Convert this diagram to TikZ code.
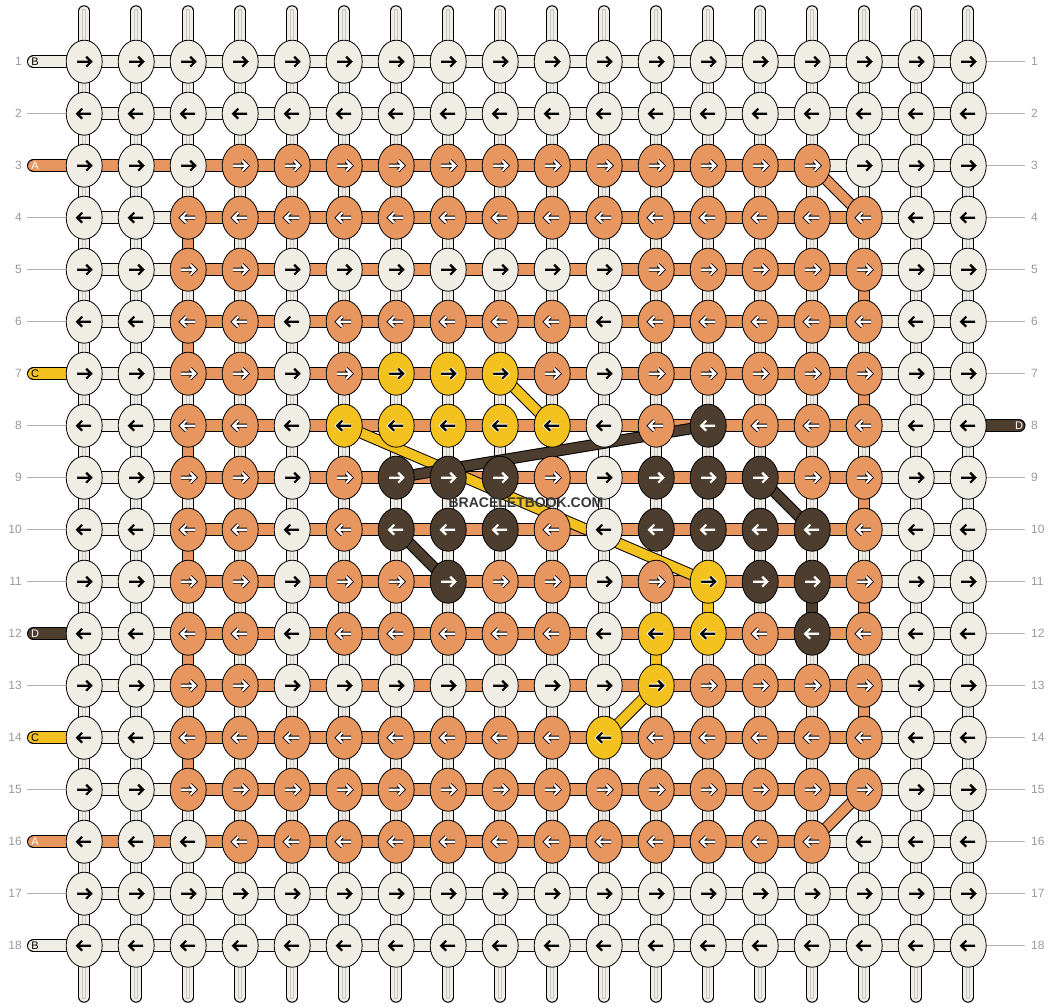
\documentclass[tikz,border=0pt]{standalone}
\usepackage{fontspec}
\setmainfont{Liberation Sans}
\usepackage{tikz}
\usetikzlibrary{shapes.geometric}

\definecolor{colW}{HTML}{F0EEE4}
\definecolor{colO}{HTML}{E8965F}
\definecolor{colY}{HTML}{F4C21F}
\definecolor{colD}{HTML}{4D3D2F}
\colorlet{outW}{colW}  \colorlet{inW}{black}
\colorlet{outO}{black} \colorlet{inO}{white}
\colorlet{outY}{white} \colorlet{inY}{black}
\colorlet{outD}{colD}  \colorlet{inD}{white}
\newcommand\unbrace[1]{#1}

\begin{document}
\begin{tikzpicture}
[
	              x = 1pt,
	              y = -1pt,
	  thread/.style = { draw=black, line width=1pt, double distance=9.5pt, double=#1 },
	    weft/.style = { draw=black, line width=1pt, double distance=11pt, double=#1 },
	    warp/.style = { draw=black, line width=11.5pt, line cap=round,
	                    postaction={draw=colW, line width=9.5pt},
	                    postaction={draw=black!22, line width=4.5pt},
	                    postaction={draw=colW, line width=2.5pt} },
	    knot/.style = { draw=black, ellipse, line width=0.8pt, minimum width=36pt,
	                    minimum height=43pt, inner sep=0pt, fill=col#1 },
	   arrow/.style = { line join=miter, line cap=butt },
	   guide/.style = { draw=black!30, line width=0.8pt },
	     num/.style = { text=black!40, font=\fontsize{12}{12}\selectfont, inner sep=0pt },
	     tag/.style = { font=\fontsize{11}{11}\selectfont, inner sep=0pt }
]
	\useasboundingbox (0,0) rectangle (1052,1008);

	\foreach \c in {1,...,18} {
		\coordinate (t-\c) at ({84.2+52*(\c-1)}, 11);
		\coordinate (b-\c) at ({84.2+52*(\c-1)}, 997);
		\foreach \r in {1,...,18}
			\coordinate (p-\r-\c) at ({84.2+52*(\c-1)}, {61.7+52*(\r-1)});
	}
	\foreach \r in {1,...,18} {
		\coordinate (gl-\r) at (27, {61.7+52*(\r-1)});
		\coordinate (l-\r)  at (33.5, {61.7+52*(\r-1)});
		\coordinate (r-\r)  at (1019, {61.7+52*(\r-1)});
		\coordinate (gr-\r) at (1025, {61.7+52*(\r-1)});
		\node (nl-\r) at (22, {61.7+52*(\r-1)})   [num, anchor=east] {\r};
		\node (nr-\r) at (1031, {61.7+52*(\r-1)}) [num, anchor=west] {\r};
	}

	% warp
	\foreach \c in {1,...,18}
		\draw [warp] (t-\c) -- (b-\c);
	\foreach \a/\b in {4/5, 6/7, 8/9, 10/11, 12/13, 14/15}
		\draw [thread=colO] (p-\a-3) -- (p-\b-3);
	\foreach \a/\b in {5/6, 7/8, 9/10, 11/12, 13/14}
		\draw [thread=colO] (p-\a-16) -- (p-\b-16);

	% weft
	\foreach \r in {2,4,5,6,8,9,10,11,13,15,17}
		\draw [guide] (gl-\r) -- (p-\r-1);
	\foreach \r in {1,...,7,9,10,...,18}
		\draw [guide] (p-\r-18) -- (gr-\r);
	\foreach \r in {1,...,18}
		\draw [weft=colW] (p-\r-1) -- (p-\r-18);
	\foreach \r in {4,...,15}
		\draw [weft=colO] (p-\r-3) -- (p-\r-16);
	\draw [weft=colW, line cap=round] (l-1)  -- (p-1-1);
	\draw [weft=colO, line cap=round] (l-3)  -- (p-3-15);
	\draw [weft=colY, line cap=round] (l-7)  -- (p-7-1);
	\draw [weft=colD, line cap=round] (l-12) -- (p-12-1);
	\draw [weft=colY, line cap=round] (l-14) -- (p-14-1);
	\draw [weft=colO, line cap=round] (l-16) -- (p-16-15);
	\draw [weft=colW, line cap=round] (l-18) -- (p-18-1);
	\draw [weft=colD, line cap=round] (p-8-18) -- (r-8);

	\node (tag-1)  at ([xshift=1.5pt]l-1)  [tag]             {B};
	\node (tag-3)  at ([xshift=1.5pt]l-3)  [tag, text=white] {A};
	\node (tag-7)  at ([xshift=1.5pt]l-7)  [tag]             {C};
	\node (tag-12) at ([xshift=1.5pt]l-12) [tag, text=white] {D};
	\node (tag-14) at ([xshift=1.5pt]l-14) [tag]             {C};
	\node (tag-16) at ([xshift=1.5pt]l-16) [tag, text=white] {A};
	\node (tag-18) at ([xshift=1.5pt]l-18) [tag]             {B};
	\node (tag-8)  at (r-8)                [tag, text=white] {D};

	% carried threads
	\draw [thread=colO] (p-3-15) -- (p-4-16);
	\draw [thread=colO] (p-15-16) -- (p-16-15);
	\draw [thread=colY] (p-7-9) -- (p-8-10);
	\draw [thread=colY] (p-8-6) -- (p-11-13);
	\draw [thread=colY] (p-11-13) -- (p-12-13);
	\draw [thread=colY] (p-12-12) -- (p-13-12);
	\draw [thread=colY] (p-13-12) -- (p-14-11);
	\draw [thread=colD] (p-8-13) -- (p-9-7);
	\draw [thread=colD] (p-10-7) -- (p-11-8);
	\draw [thread=colD] (p-9-14) -- (p-10-15);
	\draw [thread=colD] (p-11-15) -- (p-12-15);

	% knots
	\foreach \r/\pat in {
		 1/{W,W,W,W,W,W,W,W,W,W,W,W,W,W,W,W,W,W},
		 2/{W,W,W,W,W,W,W,W,W,W,W,W,W,W,W,W,W,W},
		 3/{W,W,W,O,O,O,O,O,O,O,O,O,O,O,O,W,W,W},
		 4/{W,W,O,O,O,O,O,O,O,O,O,O,O,O,O,O,W,W},
		 5/{W,W,O,O,W,W,W,W,W,W,W,O,O,O,O,O,W,W},
		 6/{W,W,O,O,W,O,O,O,O,O,W,O,O,O,O,O,W,W},
		 7/{W,W,O,O,W,O,Y,Y,Y,O,W,O,O,O,O,O,W,W},
		 8/{W,W,O,O,W,Y,Y,Y,Y,Y,W,O,D,O,O,O,W,W},
		 9/{W,W,O,O,W,O,D,D,D,O,W,D,D,D,O,O,W,W},
		10/{W,W,O,O,W,O,D,D,D,O,W,D,D,D,D,O,W,W},
		11/{W,W,O,O,W,O,O,D,O,O,W,O,Y,D,D,O,W,W},
		12/{W,W,O,O,W,O,O,O,O,O,W,Y,Y,O,D,O,W,W},
		13/{W,W,O,O,W,W,W,W,W,W,W,Y,O,O,O,O,W,W},
		14/{W,W,O,O,O,O,O,O,O,O,Y,O,O,O,O,O,W,W},
		15/{W,W,O,O,O,O,O,O,O,O,O,O,O,O,O,O,W,W},
		16/{W,W,W,O,O,O,O,O,O,O,O,O,O,O,O,W,W,W},
		17/{W,W,W,W,W,W,W,W,W,W,W,W,W,W,W,W,W,W},
		18/{W,W,W,W,W,W,W,W,W,W,W,W,W,W,W,W,W,W}}{
		\pgfmathtruncatemacro\dir{1-2*mod(\r+1,2)}
		\edef\row{\expandafter\unbrace\pat}
		\foreach \k [count=\c] in \row {
			\node (k-\r-\c) at (p-\r-\c) [knot=\k] {};
			\draw [shift={(k-\r-\c)}, xscale=\dir, arrow, line width=4pt, draw=out\k]
				(-7,0) -- (7,0) (2,-5) -- (7,0) -- (2,5);
			\draw [shift={(k-\r-\c)}, xscale=\dir, arrow, line width=2.2pt, draw=in\k]
				(-7,0) -- (7,0) (2,-5) -- (7,0) -- (2,5);
		}
	}

	\node (mark) at (526,503) [text=black!78, font=\bfseries\fontsize{14}{14}\selectfont] {BRACELETBOOK.COM};
\end{tikzpicture}
\end{document}
